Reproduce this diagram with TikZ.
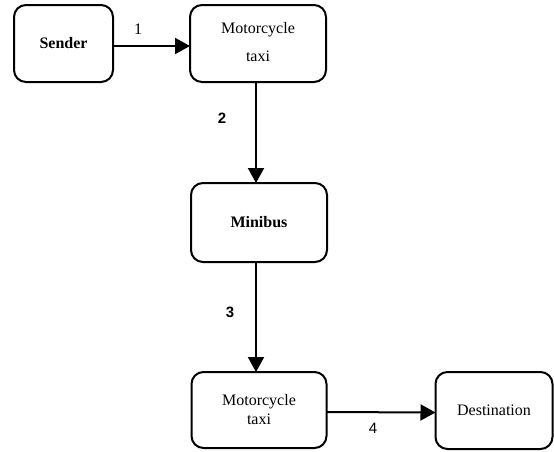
\documentclass[tikz,border=0pt]{standalone}
\usepackage{fontspec}
\setmainfont{Liberation Serif}
\newfontfamily\arialfont{Liberation Sans}
\usetikzlibrary{arrows.meta}
\tikzset{
  box/.style={draw, line width=2pt, rounded corners=12pt, inner sep=0pt, outer sep=0pt,
    align=center, font=\fontsize{16}{19}\selectfont},
  conn/.style={line width=2pt, -{Triangle[length=15pt,width=16pt]}},
  numlab/.style={inner sep=0pt, font=\fontsize{16}{18}\selectfont},
  sanslab/.style={inner sep=0pt, font=\arialfont\fontsize{15}{17}\selectfont},
}
\begin{document}
\begin{tikzpicture}[x=1pt,y=-1pt]
\useasboundingbox (0,0) rectangle (554,451);
\node[box, minimum width=99pt, minimum height=77pt] (sender) at (63.5,43.5) {\bfseries Sender};
\node[box, minimum width=136pt, minimum height=77pt] (taxi1) at (258,43.5)
  {\raisebox{-4.5pt}{\begin{tabular}{@{}c@{}}Motorcycle\\[9pt]taxi\end{tabular}}};
\node[box, minimum width=136pt, minimum height=79pt] (minibus) at (259,222.5) {\bfseries Minibus};
\node[box, minimum width=135pt, minimum height=76pt] (taxi2) at (259,410) {Motorcycle\\taxi};
\node[box, minimum width=117pt, minimum height=77pt] (dest) at (494,410.5) {Destination};

\draw[conn] ([yshift=-2.5pt]sender.east) -- ([yshift=-2.5pt]taxi1.west);
\draw[conn] (taxi1.south -| 256,0) -- (minibus.north -| 256,0);
\draw[conn] (minibus.south -| 256,0) -- (taxi2.north -| 256,0);
\draw[conn] ([yshift=-2pt]taxi2.east) -- ([yshift=-2pt]dest.west);

\node[numlab] (l1) at (138,29) {1};
\node[sanslab, font=\arialfont\bfseries\fontsize{15}{17}\selectfont] (l2) at (222,118) {2};
\node[sanslab, font=\arialfont\bfseries\fontsize{15}{17}\selectfont] (l3) at (230,312) {3};
\node[sanslab] (l4) at (373,428) {4};
\end{tikzpicture}
\end{document}
